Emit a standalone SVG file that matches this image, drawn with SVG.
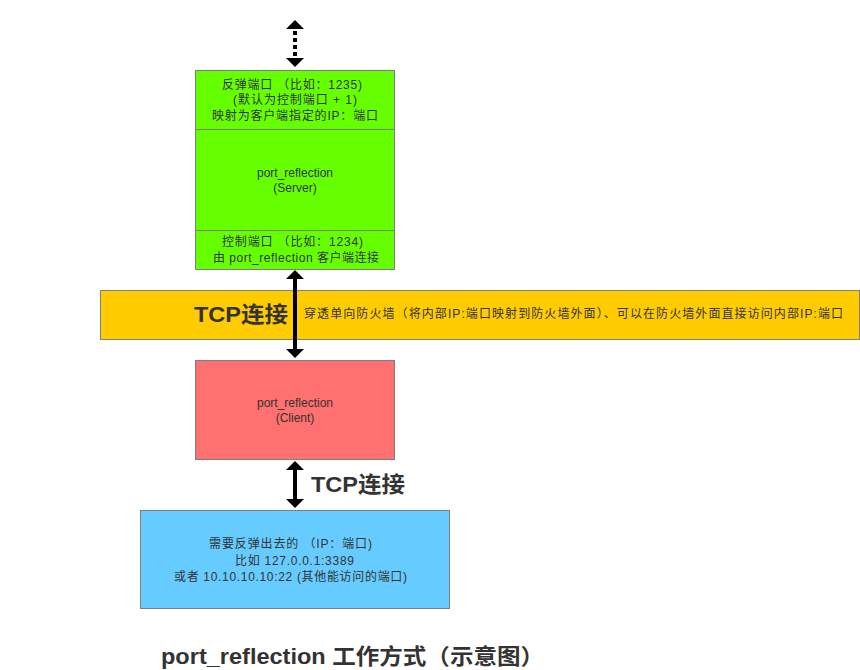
<svg xmlns="http://www.w3.org/2000/svg" width="860" height="670" viewBox="0 0 860 670">
<style>
.box{stroke:#7f7f7f;stroke-width:1}
.t{font-family:"Liberation Sans","Noto Sans CJK SC",sans-serif;font-size:12px;fill:#333;text-anchor:middle}
.b{font-family:"Liberation Sans","Noto Sans CJK SC",sans-serif;font-weight:bold;font-size:22px;fill:#333}
.ln{stroke:#000;stroke-width:4;fill:none}
</style>
<rect width="860" height="670" fill="#fff"/>
<g id="firewall">
<rect class="box" x="100.5" y="290.5" width="759" height="49" fill="#ffcc00"/>
<text class="b" x="194" y="322" textLength="94" lengthAdjust="spacingAndGlyphs">TCP连接</text>
<text class="t" x="304" y="318" style="text-anchor:start" textLength="539" lengthAdjust="spacing">穿透单向防火墙（将内部IP:端口映射到防火墙外面）、可以在防火墙外面直接访问内部IP:端口</text>
</g>
<g id="server">
<rect class="box" x="195.5" y="70.5" width="199" height="199" fill="#66ff00"/>
<line x1="195.5" y1="129.5" x2="394.5" y2="129.5" stroke="#7f7f7f"/>
<line x1="195.5" y1="230.5" x2="394.5" y2="230.5" stroke="#7f7f7f"/>
<text class="t" x="222" y="89" style="text-anchor:start" textLength="140" lengthAdjust="spacing">反弹端口 （比如：1235)</text>
<text class="t" x="233" y="104" style="text-anchor:start" textLength="124" lengthAdjust="spacing">(默认为控制端口 + 1)</text>
<text class="t" x="212" y="120" style="text-anchor:start" textLength="166" lengthAdjust="spacing">映射为客户端指定的IP：端口</text>
<text class="t" x="295" y="177">port_reflection</text>
<text class="t" x="295" y="192">(Server)</text>
<text class="t" x="222" y="246" style="text-anchor:start" textLength="141" lengthAdjust="spacing">控制端口 （比如：1234)</text>
<text class="t" x="213" y="262" style="text-anchor:start" textLength="166" lengthAdjust="spacing">由 port_reflection 客户端连接</text>
</g>
<g id="client">
<rect class="box" x="195.5" y="360.5" width="199" height="99" fill="#ff7070"/>
<text class="t" x="295" y="407">port_reflection</text>
<text class="t" x="295" y="422">(Client)</text>
</g>
<g id="target">
<rect class="box" x="140.5" y="510.5" width="309" height="98" fill="#66ccff"/>
<text class="t" x="209" y="548" style="text-anchor:start" textLength="163" lengthAdjust="spacing">需要反弹出去的 （IP：端口)</text>
<text class="t" x="235" y="565" style="text-anchor:start" textLength="119" lengthAdjust="spacing">比如 127.0.0.1:3389</text>
<text class="t" x="174" y="581" style="text-anchor:start" textLength="233" lengthAdjust="spacing">或者 10.10.10.10:22 (其他能访问的端口)</text>
</g>
<g id="connectors">
<line x1="295" y1="24" x2="295" y2="64" stroke="#000" stroke-width="4" stroke-dasharray="4,3"/>
<path d="M286,29 L295,20 L304,29 z" fill="#000"/>
<path d="M286,58 L295,67 L304,58 z" fill="#000"/>
<line class="ln" x1="295" y1="278" x2="295" y2="350"/>
<path d="M286,279 L295,270 L304,279 z" fill="#000"/>
<path d="M286,349 L295,358 L304,349 z" fill="#000"/>
<line class="ln" x1="295" y1="469" x2="295" y2="500"/>
<path d="M286,470 L295,461 L304,470 z" fill="#000"/>
<path d="M286,499 L295,508 L304,499 z" fill="#000"/>
<text class="b" x="311" y="492" textLength="94" lengthAdjust="spacingAndGlyphs">TCP连接</text>
</g>
<text class="b" x="161" y="664" textLength="383" lengthAdjust="spacingAndGlyphs">port_reflection 工作方式（示意图）</text>
</svg>
